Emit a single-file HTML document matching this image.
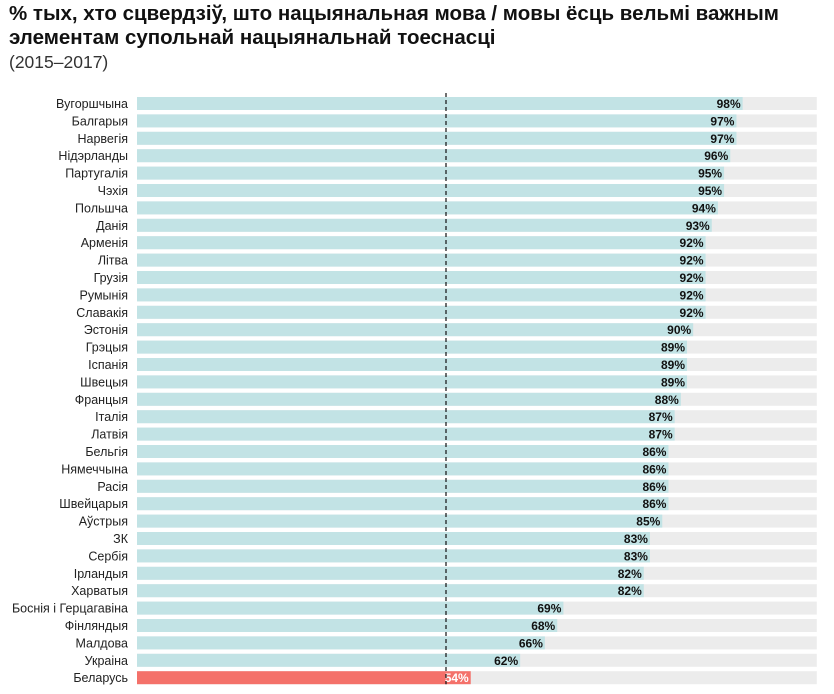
<!DOCTYPE html>
<html><head><meta charset="utf-8"><style>
body{margin:0;width:834px;height:694px;background:#fff;font-family:"Liberation Sans",sans-serif;overflow:hidden}
h1{position:absolute;left:9px;top:2px;margin:0;font-size:20.5px;line-height:24px;font-weight:bold;color:#111;width:830px;white-space:nowrap}
.sub{position:absolute;left:9px;top:52px;font-size:17.5px;color:#333}
</style></head><body>
<h1>% тых, хто сцвердзіў, што нацыянальная мова / мовы ёсць вельмі важным<br>элементам супольнай нацыянальнай тоеснасці</h1>
<div class="sub">(2015–2017)</div>
<svg id="c" width="834" height="694" style="position:absolute;left:0;top:0"></svg>
<script>
const countries=["Вугоршчына","Балгарыя","Нарвегія","Нідэрланды","Партугалія","Чэхія","Польшча","Данія","Арменія","Літва","Грузія","Румынія","Славакія","Эстонія","Грэцыя","Іспанія","Швецыя","Францыя","Італія","Латвія","Бельгія","Нямеччына","Расія","Швейцарыя","Аўстрыя","ЗК","Сербія","Ірландыя","Харватыя","Боснія і Герцагавіна","Фінляндыя","Малдова","Украіна","Беларусь"];
const values=[98,97,97,96,95,95,94,93,92,92,92,92,92,90,89,89,89,88,87,87,86,86,86,86,85,83,83,82,82,69,68,66,62,54];
const refLine=50;
const ns="http://www.w3.org/2000/svg";
const svg=document.getElementById('c');
const x0=137,pxPer=6.18,maxV=110,top0=97,step=17.4,bh=13;
const xs=v=>x0+v*pxPer;
const ys=i=>top0+i*step;
function mk(t,a){const e=document.createElementNS(ns,t);for(const k in a)e.setAttribute(k,a[k]);svg.appendChild(e);return e;}
countries.forEach((c,i)=>{
  const y=ys(i);const hl=c==="Беларусь";
  const bg=mk('rect',{x:x0,y:y,width:xs(maxV)-x0,height:bh,fill:'#ececec'});
  
  
  const r=mk('rect',{x:x0,y:y,width:xs(values[i])-x0,height:bh,fill:hl?'#f4716a':'#c2e3e5'});
  
  
  const l=mk('text',{x:128,y:y+bh-2,'text-anchor':'end','font-size':'12.5',fill:'#222'});
  l.textContent=c;
  
  
  const v=mk('text',{x:xs(values[i])-2,y:y+bh-2,'text-anchor':'end','font-size':'12','font-weight':'bold',fill:hl?'#fff':'#111'});
  v.textContent=values[i]+'%';
  
  
});
const d=mk('line',{x1:xs(refLine),x2:xs(refLine),y1:93,y2:ys(countries.length-1)+bh,stroke:'#111','stroke-width':1.2,'stroke-dasharray':'4,3'});


</script>
</body></html>
